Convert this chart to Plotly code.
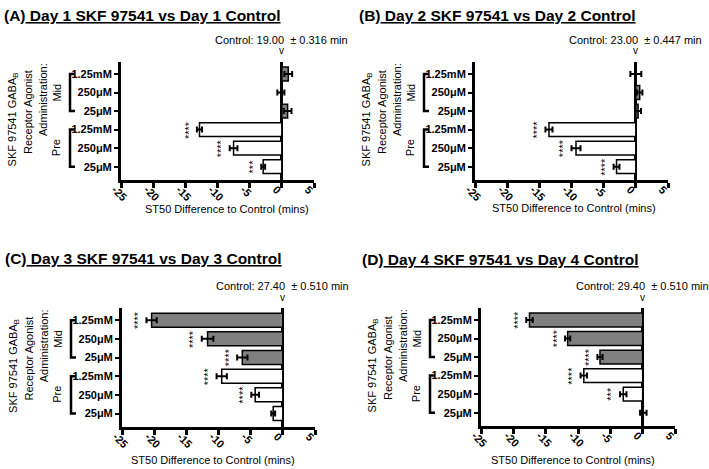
import plotly.graph_objects as go

W, H = 709, 469
FONT = "Liberation Sans"

# ---------------- data ----------------
categories = ["1.25mM", "250μM", "25μM", "1.25mM", "250μM", "25μM"]
x_ticks = [-25, -20, -15, -10, -5, 0, 5]
x_tick_labels = ["-25", "-20", "-15", "-10", "-5", "0", "5"]

panel_letters = ["(A)", "(B)", "(C)", "(D)"]
panel_titles = ["Day 1 SKF 97541 vs Day 1 Control",
                "Day 2 SKF 97541 vs Day 2 Control",
                "Day 3 SKF 97541 vs Day 3 Control",
                "Day 4 SKF 97541 vs Day 4 Control"]
control_means = ["19.00", "23.00", "27.40", "29.40"]
control_sems = ["0.316", "0.447", "0.510", "0.510"]

day1_mid = [1.0, -0.15, 0.9]
day1_mid_err = [0.6, 0.55, 0.6]
day1_pre = [-12.8, -7.5, -2.9]
day1_pre_err = [0.4, 0.6, 0.3]
day1_mid_stars = ["", "", ""]
day1_pre_stars = ["****", "****", "***"]

day2_mid = [0.0, 0.6, 0.35]
day2_mid_err = [0.85, 0.42, 0.45]
day2_pre = [-13.5, -9.3, -3.0]
day2_pre_err = [0.55, 0.7, 0.45]
day2_mid_stars = ["", "", ""]
day2_pre_stars = ["****", "****", "****"]

day3_mid = [-20.4, -11.7, -6.3]
day3_mid_err = [0.8, 0.9, 0.8]
day3_pre = [-9.5, -4.3, -1.5]
day3_pre_err = [0.8, 0.6, 0.3]
day3_mid_stars = ["****", "****", "****"]
day3_pre_stars = ["****", "****", ""]

day4_mid = [-17.5, -11.6, -6.6]
day4_mid_err = [0.5, 0.4, 0.4]
day4_pre = [-9.1, -3.0, 0.1]
day4_pre_err = [0.5, 0.5, 0.5]
day4_mid_stars = ["****", "****", "****"]
day4_pre_stars = ["****", "***", ""]

panels_data = [
    (day1_mid, day1_mid_err, day1_pre, day1_pre_err, day1_mid_stars, day1_pre_stars),
    (day2_mid, day2_mid_err, day2_pre, day2_pre_err, day2_mid_stars, day2_pre_stars),
    (day3_mid, day3_mid_err, day3_pre, day3_pre_err, day3_mid_stars, day3_pre_stars),
    (day4_mid, day4_mid_err, day4_pre, day4_pre_err, day4_mid_stars, day4_pre_stars),
]

# ---------------- layout (pixels) ----------------
boxes = [(121, 314, 62, 180), (475, 668, 62, 180), (122, 315, 308, 427), (481, 675, 308, 426)]
title_pos = [(2, 15), (357, 15), (3, 258), (360, 259)]
axis_title_pos = [(227, 209), (574, 208), (213, 460), (573, 460)]

MID_COLOR = "#808080"
PRE_COLOR = "#ffffff"


def px(x):
    return x / W


def py(y):
    return 1 - y / H


fig = go.Figure()
annotations = []
shapes = []
layout = {}

for i, (mid, mid_err, pre, pre_err, mid_st, pre_st) in enumerate(panels_data):
    n = i + 1
    xa = "x" if n == 1 else f"x{n}"
    ya = "y" if n == 1 else f"y{n}"
    xk = "xaxis" if n == 1 else f"xaxis{n}"
    yk = "yaxis" if n == 1 else f"yaxis{n}"
    x0, x1, y0, y1 = boxes[i]

    vals = list(mid) + list(pre)
    errs = list(mid_err) + list(pre_err)
    stars = list(mid_st) + list(pre_st)
    rows = list(range(len(categories)))
    colors = [MID_COLOR] * len(mid) + [PRE_COLOR] * len(pre)

    fig.add_trace(go.Bar(
        x=vals, y=rows, orientation="h", xaxis=xa, yaxis=ya,
        width=0.75,
        marker=dict(color=colors, line=dict(color="black", width=1.5)),
        error_x=dict(type="data", array=errs, visible=True, color="black",
                     thickness=2, width=3),
        showlegend=False, hoverinfo="x+y",
    ))

    layout[xk] = dict(
        domain=[px(x0), px(x1)], range=[-25, 5], anchor=ya, automargin=False,
        tickmode="array", tickvals=x_ticks, ticktext=x_tick_labels,
        tickangle=45, ticklabelstandoff=-9, ticklabelshift=-6,
        showline=True, linewidth=3, linecolor="black",
        ticks="outside", ticklen=5, tickwidth=3, tickcolor="black",
        showgrid=False, zeroline=True, zerolinewidth=3, zerolinecolor="black",
        tickfont=dict(family=FONT, size=11, color="black", weight="bold"),
        fixedrange=True,
    )
    layout[yk] = dict(
        domain=[py(y1), py(y0)], range=[5.72, -0.65], anchor=xa, automargin=False,
        tickmode="array", tickvals=rows, ticktext=categories,
        showline=True, linewidth=3, linecolor="black",
        ticks="outside", ticklen=4, tickwidth=2, tickcolor="black",
        showgrid=False, zeroline=False,
        tickfont=dict(family=FONT, size=11, color="black", weight="bold"),
        fixedrange=True,
    )

    # panel title
    tx, ty = title_pos[i]
    annotations.append(dict(
        xref="paper", yref="paper", x=px(tx), y=py(ty), xanchor="left", yanchor="middle",
        align="left",
        text=f"<b>{panel_letters[i]}<u> {panel_titles[i]}</u></b>", showarrow=False,
        font=dict(family=FONT, size=15.5, color="black"),
    ))
    # control text and marker
    annotations.append(dict(
        xref=xa, yref="paper", x=0, y=py(y0 - 22), xanchor="center", yanchor="middle",
        text=f"Control: {control_means[i]}\u00a0\u00a0± {control_sems[i]} min", showarrow=False,
        font=dict(family=FONT, size=11, color="black"),
    ))
    annotations.append(dict(
        xref=xa, yref="paper", x=0, y=py(y0 - 11), xanchor="center", yanchor="middle",
        text="v", showarrow=False, font=dict(family=FONT, size=10, color="black"),
    ))
    # x axis title
    ax, ay = axis_title_pos[i]
    annotations.append(dict(
        xref="paper", yref="paper", x=px(ax), y=py(ay), xanchor="center", yanchor="middle",
        text="ST50 Difference to Control (mins)", showarrow=False,
        font=dict(family=FONT, size=11, color="black"),
    ))
    # rotated y labels
    for text, dx, row in [("SKF 97541 GABA<sub>B</sub>", -108, 2.45),
                          ("Receptor Agonist", -93, 2.05),
                          ("Administration:", -78, 1.4),
                          ("Mid", -64, 1.0),
                          ("Pre", -65, 4.0)]:
        annotations.append(dict(
            xref="paper", yref=ya, x=px(x0 + dx), y=row, xanchor="center", yanchor="middle",
            text=text, textangle=-90, showarrow=False,
            font=dict(family=FONT, size=11, color="black"),
        ))
    # brackets
    for r0, r1 in [(0, 2), (3, 5)]:
        xb = px(x0 - 51)
        xs = px(x0 - 46)
        shapes.append(dict(
            type="path", xref="paper", yref=ya,
            path=f"M {xs},{r0} L {xb},{r0} L {xb},{r1} L {xs},{r1}",
            line=dict(color="black", width=2.5),
        ))
    # significance stars
    for r, (v, e, s) in enumerate(zip(vals, errs, stars)):
        if s:
            annotations.append(dict(
                xref=xa, yref=ya, x=v - e, y=r, xshift=-8.5, xanchor="center", yanchor="middle",
                text=s, textangle=-90, showarrow=False,
                font=dict(family=FONT, size=11, color="black"),
            ))

fig.update_layout(
    template="none",
    width=W, height=H, autosize=False,
    margin=dict(l=0, r=0, t=0, b=0, pad=0),
    paper_bgcolor="white", plot_bgcolor="white",
    barmode="overlay",
    annotations=annotations, shapes=shapes,
    font=dict(family=FONT, color="black"),
    **layout,
)

fig.write_html("out.html", config={"displayModeBar": False},
               post_script="document.body.style.margin='0';document.body.style.padding='0';")
